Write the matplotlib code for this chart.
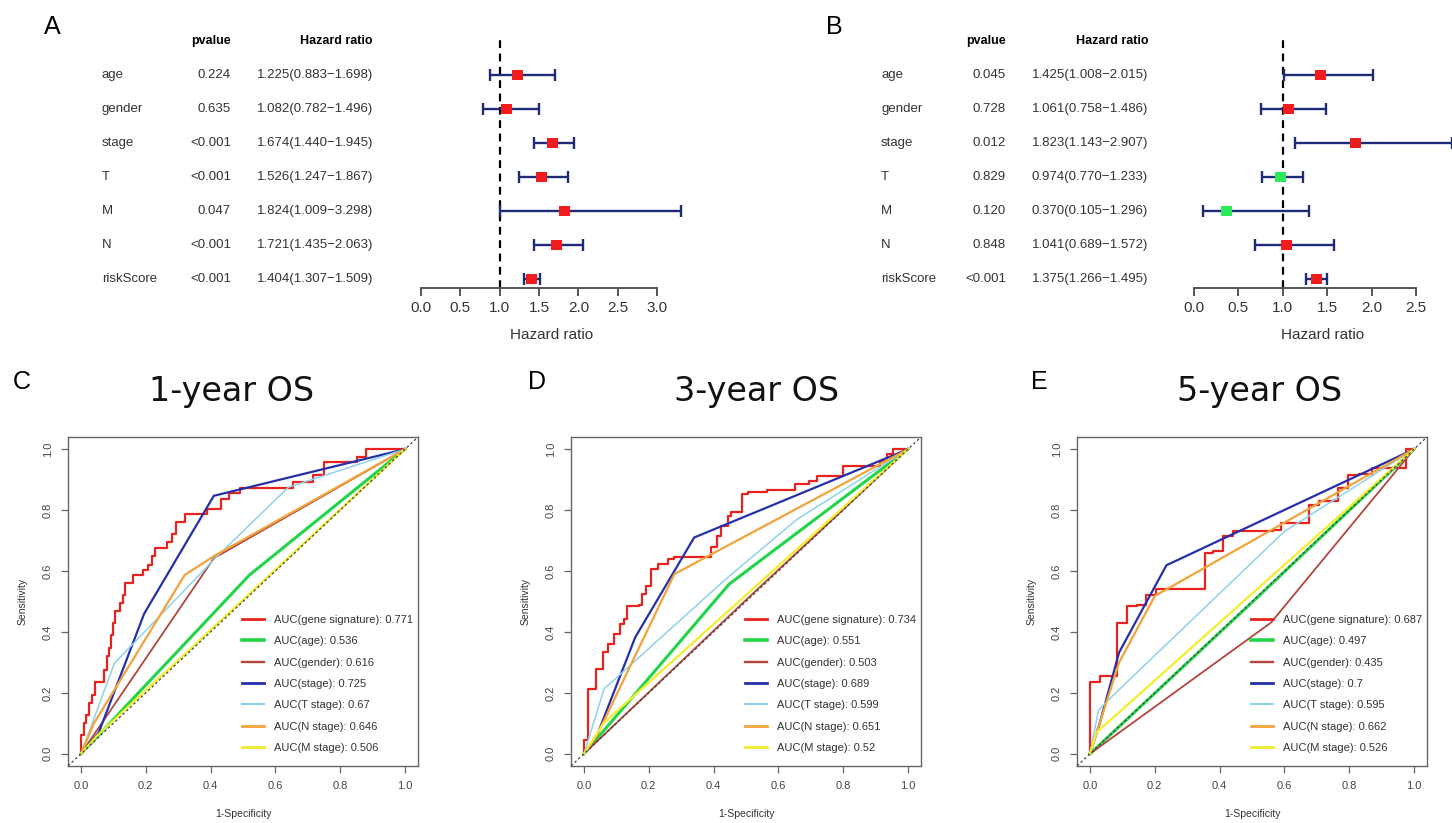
import numpy as np
import matplotlib
matplotlib.use("Agg")
import matplotlib.pyplot as plt
from matplotlib.lines import Line2D

plt.rcParams['font.family'] = ['Liberation Sans', 'DejaVu Sans']

W, H = 1452, 823

# ---------------- Forest data ----------------
var_names = ['age', 'gender', 'stage', 'T', 'M', 'N', 'riskScore']

A_pvalue = ['0.224', '0.635', '<0.001', '<0.001', '0.047', '<0.001', '<0.001']
A_hr = [1.225, 1.082, 1.674, 1.526, 1.824, 1.721, 1.404]
A_low = [0.883, 0.782, 1.440, 1.247, 1.009, 1.435, 1.307]
A_high = [1.698, 1.496, 1.945, 1.867, 3.298, 2.063, 1.509]
A_ticks = [0.0, 0.5, 1.0, 1.5, 2.0, 2.5, 3.0]

B_pvalue = ['0.045', '0.728', '0.012', '0.829', '0.120', '0.848', '<0.001']
B_hr = [1.425, 1.061, 1.823, 0.974, 0.370, 1.041, 1.375]
B_low = [1.008, 0.758, 1.143, 0.770, 0.105, 0.689, 1.266]
B_high = [2.015, 1.486, 2.907, 1.233, 1.296, 1.572, 1.495]
B_ticks = [0.0, 0.5, 1.0, 1.5, 2.0, 2.5]

# ---------------- ROC data ----------------
roc_labels = ['gene signature', 'age', 'gender', 'stage', 'T stage', 'N stage', 'M stage']

C_auc = ['0.771', '0.536', '0.616', '0.725', '0.67', '0.646', '0.506']
C_gene_x = [0, 0, 0.009, 0.017, 0.026, 0.033, 0.043, 0.072, 0.079, 0.087, 0.094, 0.100, 0.105,
            0.120, 0.130, 0.135, 0.161, 0.190, 0.207, 0.218, 0.228, 0.264, 0.280, 0.294, 0.320,
            0.389, 0.433, 0.458, 0.490, 0.653, 0.715, 0.750, 0.853, 0.879, 1.0]
C_gene_y = [0, 0.062, 0.100, 0.128, 0.166, 0.193, 0.237, 0.275, 0.320, 0.346, 0.390, 0.430, 0.470,
            0.494, 0.520, 0.560, 0.587, 0.603, 0.620, 0.650, 0.674, 0.696, 0.720, 0.760, 0.787,
            0.805, 0.838, 0.855, 0.871, 0.893, 0.915, 0.958, 0.975, 1.0, 1.0]
C_age_x = [0, 0.52, 1]
C_age_y = [0, 0.587, 1]
C_gender_x = [0, 0.41, 1]
C_gender_y = [0, 0.642, 1]
C_stage_x = [0, 0.055, 0.195, 0.41, 1]
C_stage_y = [0, 0.07, 0.46, 0.847, 1]
C_T_x = [0, 0.103, 0.417, 0.64, 1]
C_T_y = [0, 0.297, 0.645, 0.875, 1]
C_N_x = [0, 0.04, 0.32, 0.415, 1]
C_N_y = [0, 0.10, 0.587, 0.652, 1]
C_M_x = [0, 0.05, 1]
C_M_y = [0, 0.06, 1]

D_auc = ['0.734', '0.551', '0.503', '0.689', '0.599', '0.651', '0.52']
D_gene_x = [0, 0, 0.012, 0.038, 0.058, 0.074, 0.094, 0.110, 0.125, 0.133, 0.171, 0.180, 0.190,
            0.207, 0.230, 0.258, 0.279, 0.392, 0.412, 0.423, 0.443, 0.453, 0.489, 0.505, 0.566,
            0.650, 0.694, 0.720, 0.800, 0.915, 0.935, 0.955, 1.0]
D_gene_y = [0, 0.044, 0.213, 0.279, 0.333, 0.360, 0.393, 0.426, 0.443, 0.484, 0.490, 0.525, 0.552,
            0.607, 0.623, 0.639, 0.645, 0.678, 0.716, 0.749, 0.781, 0.795, 0.852, 0.858, 0.867,
            0.885, 0.896, 0.913, 0.945, 0.962, 0.984, 1.0, 1.0]
D_age_x = [0, 0.448, 1]
D_age_y = [0, 0.557, 1]
D_gender_x = [0, 0.5, 1]
D_gender_y = [0, 0.505, 1]
D_stage_x = [0, 0.04, 0.158, 0.34, 1]
D_stage_y = [0, 0.06, 0.382, 0.71, 1]
D_T_x = [0, 0.062, 0.438, 0.658, 1]
D_T_y = [0, 0.213, 0.574, 0.77, 1]
D_N_x = [0, 0.04, 0.279, 1]
D_N_y = [0, 0.06, 0.59, 1]
D_M_x = [0, 0.06, 1]
D_M_y = [0, 0.10, 1]

E_auc = ['0.687', '0.497', '0.435', '0.7', '0.595', '0.662', '0.526']
E_gene_x = [0, 0, 0.031, 0.082, 0.113, 0.144, 0.174, 0.205, 0.354, 0.379, 0.410, 0.441, 0.564,
            0.590, 0.677, 0.708, 0.764, 0.795, 0.830, 0.870, 0.975, 1.0]
E_gene_y = [0, 0.237, 0.254, 0.431, 0.485, 0.487, 0.521, 0.540, 0.658, 0.665, 0.716, 0.730, 0.736,
            0.758, 0.818, 0.829, 0.872, 0.916, 0.920, 0.938, 1.0, 1.0]
E_age_x = [0, 0.5, 1]
E_age_y = [0, 0.497, 1]
E_gender_x = [0, 0.559, 1]
E_gender_y = [0, 0.431, 1]
E_stage_x = [0, 0.03, 0.09, 0.236, 1]
E_stage_y = [0, 0.10, 0.333, 0.619, 1]
E_T_x = [0, 0.026, 0.05, 0.60, 1]
E_T_y = [0, 0.142, 0.17, 0.73, 1]
E_N_x = [0, 0.09, 0.20, 1]
E_N_y = [0, 0.30, 0.518, 1]
E_M_x = [0, 0.02, 1]
E_M_y = [0, 0.07, 1]

roc_colors = ['#e8231e', '#22d44a', '#b2453c', '#2530a8', '#8fd2ea', '#f2a33a', '#f2ee2c']
roc_widths = [1.6, 2.2, 1.3, 1.6, 1.1, 1.6, 1.6]

fig = plt.figure(figsize=(W / 100, H / 100), dpi=100)


def fx(p):
    return p / W


def fy(p):
    return 1 - p / H


TXT = '#333333'
NAVY = '#1f2a78'

# ---------------- Forest plots ----------------
row_y0, row_dy = 75, 34
ax_top, ax_bot = 38, 288


def forest(zero_px, ppu, xmax, tick_list, xlabel_x, hr, lo, hi, pv,
           label_px, pv_px, hr_px, letter, letter_px):
    ax = fig.add_axes([fx(zero_px), fy(ax_bot), xmax * ppu / W, (ax_bot - ax_top) / H])
    ax.set_xlim(0, xmax)
    ax.set_ylim((ax_bot - row_y0) / row_dy, (ax_top - row_y0) / row_dy)
    ypos = np.arange(len(hr))
    ax.axvline(1.0, color='black', lw=1.6, ls=(0, (3.5, 2.5)), zorder=1)
    ax.hlines(ypos, lo, hi, color=NAVY, lw=1.7, zorder=2, clip_on=False)
    ax.plot(lo, ypos, ls='none', marker='|', ms=8, mew=1.7, color=NAVY, clip_on=False, zorder=2)
    ax.plot(hi, ypos, ls='none', marker='|', ms=8, mew=1.7, color=NAVY, clip_on=False, zorder=2)
    cols = ['#ee1c1c' if h > 1 else '#2de85a' for h in hr]
    ax.scatter(hr, ypos, marker='s', s=62, c=cols, zorder=3, linewidths=0)
    for s in ['top', 'left', 'right']:
        ax.spines[s].set_visible(False)
    ax.spines['bottom'].set_bounds(tick_list[0], tick_list[-1])
    ax.spines['bottom'].set_color('#555555')
    ax.spines['bottom'].set_linewidth(1.4)
    ax.set_yticks([])
    ax.set_xticks(tick_list)
    ax.set_xticklabels([f'{t:.1f}' for t in tick_list])
    ax.tick_params(axis='x', direction='out', length=6, width=1.4, color='#555555',
                   labelsize=11, labelcolor=TXT, pad=3)
    ax.patch.set_visible(False)
    fig.text(fx(xlabel_x), fy(335), 'Hazard ratio', ha='center', va='center', fontsize=11, color=TXT)
    # table
    fig.text(fx(letter_px), fy(27), letter, ha='center', va='center', fontsize=18)
    fig.text(fx(pv_px), fy(41), 'pvalue', ha='right', va='center', fontsize=9, fontweight='bold')
    fig.text(fx(hr_px), fy(41), 'Hazard ratio', ha='right', va='center', fontsize=9, fontweight='bold')
    for i in range(len(hr)):
        yy = fy(row_y0 + i * row_dy)
        fig.text(fx(label_px), yy, var_names[i], ha='left', va='center', fontsize=9.5, color=TXT)
        fig.text(fx(pv_px), yy, pv[i], ha='right', va='center', fontsize=9.5, color=TXT)
        fig.text(fx(hr_px), yy, f'{hr[i]:.3f}({lo[i]:.3f}\u2212{hi[i]:.3f})',
                 ha='right', va='center', fontsize=9.5, color=TXT)
    return ax


forest(421, 78.7, 3.45, A_ticks, 552, A_hr, A_low, A_high, A_pvalue, 102, 231, 373, 'A', 52)
forest(1194, 88.8, 2.905, B_ticks, 1323, B_hr, B_low, B_high, B_pvalue, 881, 1006, 1148, 'B', 834)

# ---------------- ROC plots ----------------


def roc_panel(left_px, title, title_x, letter, letter_x, curves, aucs):
    ax = fig.add_axes([fx(left_px), fy(766), 350 / W, 329 / H])
    ax.set_xlim(-0.04, 1.04)
    ax.set_ylim(-0.04, 1.04)
    handles = []
    for k, (xs, ys) in enumerate(curves):
        ds = 'steps-post' if k == 0 else 'default'
        ax.plot(xs, ys, color=roc_colors[k], lw=roc_widths[k], drawstyle=ds, zorder=2 + k * 0.1)
        handles.append(Line2D([], [], color=roc_colors[k], lw=roc_widths[k] + 0.4))
    ax.plot([-0.04, 1.04], [-0.04, 1.04], color='#444444', lw=0.9, ls=(0, (2, 2)), zorder=5)
    labels = [f'AUC({roc_labels[k]}): {aucs[k]}' for k in range(len(aucs))]
    ax.legend(handles, labels, loc='lower left', bbox_to_anchor=(0.497, 0.003),
              bbox_transform=ax.transData, frameon=False, fontsize=8, handlelength=2.0,
              handletextpad=0.9, labelspacing=1.02, borderpad=0, borderaxespad=0,
              labelcolor=TXT)
    ticks = [0.0, 0.2, 0.4, 0.6, 0.8, 1.0]
    ax.set_xticks(ticks)
    ax.set_yticks(ticks)
    ax.set_xticklabels([f'{t:.1f}' for t in ticks])
    ax.set_yticklabels([f'{t:.1f}' for t in ticks], rotation=90, va='center')
    ax.tick_params(direction='out', length=5, width=0.9, color='#666666', labelsize=8,
                   labelcolor='#444444', pad=6)
    for s in ax.spines.values():
        s.set_color('#666666')
        s.set_linewidth(1.0)
    ax.set_xlabel('1-Specificity', fontsize=7.5, color=TXT, labelpad=13)
    ax.set_ylabel('Sensitivity', fontsize=7.5, color=TXT, labelpad=11)
    fig.text(fx(title_x), fy(392), title, ha='center', va='center', fontsize=24,
             family=['DejaVu Sans'], color='#111111')
    fig.text(fx(letter_x), fy(382), letter, ha='center', va='center', fontsize=18)
    return ax


roc_panel(68, '1-year OS', 232, 'C', 22,
          [(C_gene_x, C_gene_y), (C_age_x, C_age_y), (C_gender_x, C_gender_y),
           (C_stage_x, C_stage_y), (C_T_x, C_T_y), (C_N_x, C_N_y), (C_M_x, C_M_y)], C_auc)
roc_panel(571, '3-year OS', 757, 'D', 537,
          [(D_gene_x, D_gene_y), (D_age_x, D_age_y), (D_gender_x, D_gender_y),
           (D_stage_x, D_stage_y), (D_T_x, D_T_y), (D_N_x, D_N_y), (D_M_x, D_M_y)], D_auc)
roc_panel(1077, '5-year OS', 1260, 'E', 1039,
          [(E_gene_x, E_gene_y), (E_age_x, E_age_y), (E_gender_x, E_gender_y),
           (E_stage_x, E_stage_y), (E_T_x, E_T_y), (E_N_x, E_N_y), (E_M_x, E_M_y)], E_auc)

fig.savefig('out.png', dpi=100)
